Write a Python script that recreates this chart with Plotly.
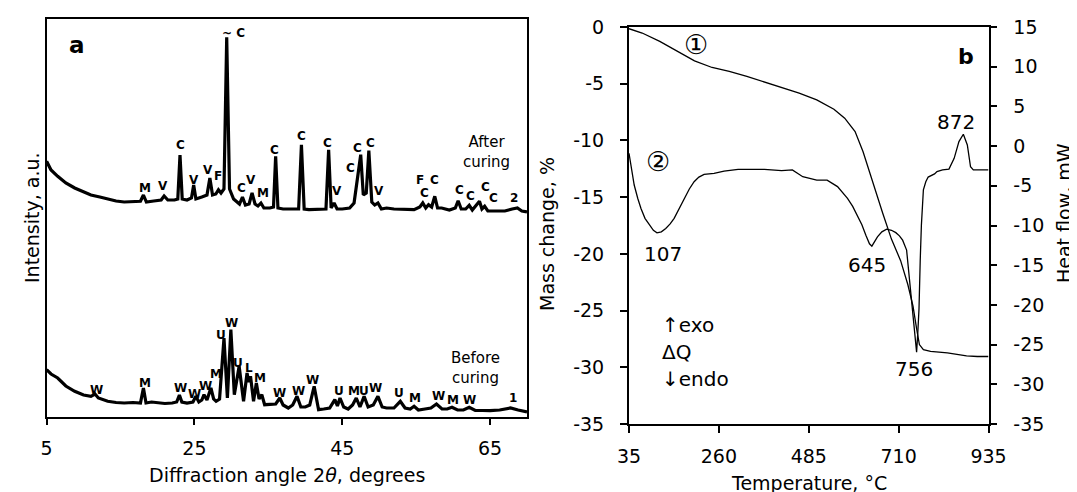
import plotly.graph_objects as go

# ---------------- data: XRD (panel a) ----------------
after_2theta = [5.0, 5.6, 6.5, 7.6, 8.8, 10.0, 11.0, 12.2, 13.3, 14.4, 15.5, 16.7, 17.7, 18.1, 18.5, 19.5, 20.5, 20.9, 21.4,
                22.3, 22.75, 23.05, 23.35, 24.0, 24.6, 24.9, 25.2, 26.0, 26.7, 27.09, 27.45, 27.9, 28.25, 28.6, 29.0,
                29.37, 29.75, 30.3, 31.1, 31.5, 31.9, 32.4, 32.8, 33.2, 33.6, 34.0, 34.4, 35.2, 35.7, 35.99, 36.3,
                37.0, 38.0, 39.1, 39.48, 39.85, 40.5, 41.5, 42.8, 43.16, 43.5, 43.9, 44.3, 45.0, 46.0, 46.6, 47.12,
                47.5, 47.85, 48.25, 48.6, 49.0, 49.4, 49.83, 50.3, 51.0, 52.0, 53.0, 54.0, 54.72, 55.5, 55.9, 56.3,
                56.68, 57.1, 57.52, 57.9, 58.45, 59.5, 60.3, 60.68, 61.1, 61.7, 62.18, 62.6, 63.2, 63.57, 63.9,
                64.27, 64.7, 65.9, 67.0, 68.0, 68.7, 69.3, 70.0]
after_int = [255.7, 247, 240.7, 234, 229, 225, 222, 220, 218, 216, 215, 215.5, 215.7, 222, 215, 216, 217, 221, 217,
             217, 218, 262, 218, 217, 219, 232, 218, 220, 222, 239, 222, 223, 227.3, 224, 228,
             379.7, 228, 218, 213, 220, 212, 213, 224, 213, 211, 214, 209, 209, 210, 260.7, 209,
             208, 208, 208, 272.3, 208, 207.3, 207.5, 208, 267.3, 209, 214, 208, 208, 209, 214, 242.3,
             262.3, 222, 224, 266.3, 215, 212, 214, 208, 209, 208, 207.5, 207.5, 207.3, 210, 214, 209,
             212.3, 210, 220.7, 209, 209, 207, 209, 216.3, 208, 208, 211.7, 207, 212.3, 215.7, 208,
             210.7, 206, 205.7, 206, 208, 209, 206, 205]

before_2theta = [5.0, 5.6, 6.5, 7.6, 8.8, 10.0, 11.0, 11.55, 12.0, 13.27, 14.4, 15.5, 16.7, 17.7, 18.1, 18.45, 19.2,
                 20.0, 21.0, 22.0, 22.6, 22.97, 23.3, 24.0, 24.8, 25.2, 25.6, 26.0, 26.3, 26.7, 27.23, 27.6, 27.93,
                 28.4, 29.0, 29.46, 29.93, 30.4, 31.05, 31.65, 32.12, 32.35, 32.59, 33.0, 33.38, 33.75, 34.12, 34.5,
                 35.3, 36.0, 36.55, 37.0, 37.7, 38.3, 38.88, 39.4, 40.0, 40.6, 41.2, 41.8, 42.5, 43.3, 44.0, 44.35,
                 44.7, 45.2, 45.8, 46.4, 46.9, 47.4, 47.96, 48.5, 49.2, 49.83, 50.4, 51.0, 52.0, 52.86, 53.5, 54.2,
                 54.72, 55.3, 56.2, 57.0, 57.75, 58.5, 59.2, 59.85, 60.6, 61.4, 62.18, 63.0, 64.0, 65.0, 66.3,
                 67.77, 68.8, 70.0]
before_int = [47.3, 43, 39, 31, 25.7, 22, 20.7, 23, 19, 15.7, 14.5, 14, 14.5, 14, 29, 14, 15,
              14, 13.5, 14, 15, 22, 15, 14, 15, 20.7, 15, 17, 22.3, 17, 29, 18, 15.7,
              18, 79, 19, 87.3, 22.3, 50.7, 15.7, 44, 35, 40.7, 15.7, 34, 18, 22.3, 12.3,
              13, 13, 19, 12, 9, 12, 20.7, 10, 10, 12, 30.7, 7.3, 8, 9, 17.3, 11,
              19, 10, 8, 12, 19, 10, 20.7, 10, 12, 20.7, 10, 9, 9, 15.7, 9, 8,
              10.7, 7, 8, 9, 13, 8, 8, 9.7, 7, 7, 9.7, 6.5, 6.5, 6.3, 7,
              9, 7, 5]

after_labels = ["M", "V", "C", "V", "V", "F", "~ C", "C", "V", "M", "C", "C", "C", "V", "C", "C", "C", "V",
                "F", "C", "C", "C", "C", "C", "C", "2"]
after_label_2theta = [18.28, 20.8, 23.17, 24.9, 26.85, 28.25, 30.3, 31.42, 32.68, 34.22, 35.85, 39.48, 43.07,
                      44.24, 46.15, 47.12, 48.8, 49.92, 55.51, 56.12, 57.52, 60.87, 62.41, 64.41, 65.5, 68.23]
after_label_int = [229, 230.7, 272.3, 237.3, 247.3, 240.7, 384, 229, 237.3, 224, 267.3, 280.7, 274,
                   225.7, 249, 269, 274, 225.7, 237.3, 224, 237.3, 227.3, 220.7, 230, 219.5, 219]

before_labels = ["W", "M", "W", "W", "W", "M", "U", "W", "U", "L", "M", "W", "W", "W", "U", "M", "U", "W",
                 "U", "M", "W", "M", "W", "1"]
before_label_2theta = [11.76, 18.37, 23.17, 25.0, 26.55, 27.9, 28.63, 30.02, 30.96, 32.35, 33.89, 36.55,
                       39.02, 40.97, 44.61, 46.57, 47.96, 49.5, 52.72, 54.86, 57.98, 59.99, 62.27, 68.1]
before_label_int = [27.3, 34, 29, 23, 31, 43, 82.3, 94, 54, 49, 39, 24,
                    25.7, 37.3, 25.7, 25.7, 25.7, 29, 24, 19, 20.7, 17.3, 17.3, 19]

xrd_ticks = [5, 25, 45, 65]

# ---------------- data: TG / DTA (panel b) ----------------
tg_temp = [35, 68, 112, 156, 199, 243, 286, 330, 374, 417, 461, 505, 548, 575, 601, 621, 645, 670, 692, 715,
           733, 746, 755, 762, 772, 790, 832, 866, 880, 907, 935]
tg_mass = [-0.15, -0.53, -1.27, -2.15, -2.98, -3.57, -3.92, -4.36, -4.86, -5.33, -5.83, -6.42, -7.25, -8.04,
           -9.22, -11.0, -13.7, -16.4, -18.7, -20.6, -22.7, -24.6, -26.6, -28.0, -28.45, -28.6, -28.73, -28.9,
           -29.0, -29.05, -29.05]

dta_temp = [35, 41, 48, 57, 65, 75, 86, 96, 105, 116, 127, 138, 148, 160, 173, 186, 198, 210, 223, 248, 273,
            308, 374, 417, 444, 470, 505, 531, 557, 582, 595, 607, 618, 628, 637, 643, 650, 657, 668, 680, 692,
            703, 712, 720, 730, 736, 740, 745, 750, 755, 758, 761, 764, 767, 772, 778, 784, 800, 806, 820, 836,
            849, 861, 872, 882, 890, 897, 935]
dta_heat = [-0.9, -3.0, -4.9, -6.6, -7.85, -9.1, -9.95, -10.6, -10.92, -10.8, -10.38, -9.8, -9.1, -7.9, -6.6,
            -5.4, -4.48, -3.9, -3.56, -3.43, -3.14, -2.93, -2.93, -3.1, -3.0, -3.86, -4.28, -4.28, -5.1, -6.59,
            -7.6, -8.7, -9.9, -11.22, -12.3, -12.6, -12.0, -11.43, -10.8, -10.47, -10.6, -10.9, -11.3, -11.85,
            -13.1, -16.3, -18.2, -20.5, -23.5, -25.95, -23.5, -20.5, -14.5, -9.96, -5.5, -4.5, -3.9, -3.5,
            -3.2, -3.0, -2.9, -1.54, 0.57, 1.49, 0.14, -2.6, -3.0, -3.0]

temp_ticks = [35, 260, 485, 710, 935]
mass_ticks = [0, -5, -10, -15, -20, -25, -30, -35]
heat_ticks = [15, 10, 5, 0, -5, -10, -15, -20, -25, -30, -35]

peak_texts = ["107", "645", "756", "872"]
peak_temp = [120, 632, 749, 853]
peak_mass = [-20.0, -20.95, -30.14, -8.34]

# ---------------- figure ----------------
W, H = 1077, 492


def fx(px):
    return px / W


def fy(py):
    return 1 - py / H


FONT = "DejaVu Sans, Liberation Sans, Arial, sans-serif"
BLACK = "black"

fig = go.Figure()
fig.add_trace(go.Scatter(x=after_2theta, y=after_int, mode="lines", line=dict(color=BLACK, width=3.2),
                         xaxis="x", yaxis="y", hoverinfo="skip"))
fig.add_trace(go.Scatter(x=before_2theta, y=before_int, mode="lines", line=dict(color=BLACK, width=3.2),
                         xaxis="x", yaxis="y", hoverinfo="skip"))
fig.add_trace(go.Scatter(x=tg_temp, y=tg_mass, mode="lines", line=dict(color=BLACK, width=1.3),
                         xaxis="x2", yaxis="y2", hoverinfo="skip"))
fig.add_trace(go.Scatter(x=dta_temp, y=dta_heat, mode="lines", line=dict(color=BLACK, width=1.3),
                         xaxis="x2", yaxis="y3", hoverinfo="skip"))

tickfont = dict(family=FONT, size=19, color=BLACK)
common = dict(showgrid=False, zeroline=False, linecolor=BLACK, tickcolor=BLACK, automargin=False)

layout = dict(
    width=W, height=H, margin=dict(l=0, r=0, t=0, b=0), template="none",
    paper_bgcolor="white", plot_bgcolor="rgba(0,0,0,0)", showlegend=False,
    font=dict(family=FONT, size=19, color=BLACK),
    xaxis=dict(domain=[fx(38.6), fx(519.0)], range=[5, 70], anchor="y", tickvals=xrd_ticks,
               ticktext=[str(v) for v in xrd_ticks], ticks="outside", ticklen=6, tickwidth=2,
               showline=True, linewidth=2, mirror=True, tickfont=tickfont, ticklabelstandoff=7, **common),
    yaxis=dict(domain=[fy(409), fy(11)], range=[0, 398], anchor="x", showticklabels=False, ticks="",
               showline=True, linewidth=2, mirror=True, **common),
    xaxis2=dict(domain=[fx(621.0), fx(980.5)], range=[35, 935], anchor="y2", tickvals=temp_ticks,
                ticktext=[str(v) for v in temp_ticks], ticks="outside", ticklen=7, tickwidth=2,
                showline=True, linewidth=2, mirror=True, tickfont=tickfont, ticklabelstandoff=7, **common),
    xaxis3=dict(overlaying="x2", anchor="y2", side="bottom", range=[35, 935], tickvals=temp_ticks,
                ticks="inside", ticklen=7, tickwidth=2, showticklabels=False, showline=False, **common),
    yaxis2=dict(domain=[fy(416), fy(19)], range=[-35, 0], anchor="x2", tickvals=mass_ticks,
                ticktext=[str(v) for v in mass_ticks], ticks="outside", ticklen=7, tickwidth=2,
                showline=True, linewidth=2, tickfont=tickfont, ticklabelstandoff=12, **common),
    yaxis4=dict(overlaying="y2", anchor="x2", side="left", range=[-35, 0], tickvals=mass_ticks,
                ticks="inside", ticklen=7, tickwidth=2, showticklabels=False, showline=False, **common),
    yaxis3=dict(overlaying="y2", anchor="x2", side="right", range=[-35, 15], tickvals=heat_ticks,
                ticktext=[str(v) for v in heat_ticks], ticks="outside", ticklen=6, tickwidth=2,
                showline=True, linewidth=2, tickfont=tickfont, ticklabelstandoff=13, **common),
    yaxis5=dict(overlaying="y2", anchor="x2", side="right", range=[-35, 15], tickvals=heat_ticks,
                ticks="inside", ticklen=6, tickwidth=2, showticklabels=False, showline=False, **common),
)
fig.update_layout(**layout)

ann = []
lblfont = dict(family=FONT, size=12, color=BLACK, weight="bold")
for t, x, y in zip(after_labels, after_label_2theta, after_label_int):
    ann.append(dict(text=t, x=x, y=y, xref="x", yref="y", showarrow=False, font=lblfont,
                    xanchor="center", yanchor="middle"))
for t, x, y in zip(before_labels, before_label_2theta, before_label_int):
    ann.append(dict(text=t, x=x, y=y, xref="x", yref="y", showarrow=False, font=lblfont,
                    xanchor="center", yanchor="middle"))
curfont = dict(family=FONT, size=15, color=BLACK)
ann.append(dict(text="After<br>curing", x=64.5, y=265, xref="x", yref="y", showarrow=False, font=curfont,
                xanchor="center", yanchor="middle"))
ann.append(dict(text="Before<br>curing", x=63.0, y=49, xref="x", yref="y", showarrow=False, font=curfont,
                xanchor="center", yanchor="middle"))
ann.append(dict(text="<b>a</b>", x=9.06, y=372, xref="x", yref="y", showarrow=False,
                font=dict(family=FONT, size=23, color=BLACK), xanchor="center", yanchor="middle"))

numfont = dict(family=FONT, size=20, color=BLACK)
for t, x, y in zip(peak_texts, peak_temp, peak_mass):
    ann.append(dict(text=t, x=x, y=y, xref="x2", yref="y2", showarrow=False, font=numfont,
                    xanchor="center", yanchor="middle"))
circfont = dict(family="DejaVu Sans, Noto Sans CJK JP", size=27, color=BLACK)
ann.append(dict(text="①", x=203.5, y=-1.56, xref="x2", yref="y2", showarrow=False, font=circfont,
                xanchor="center", yanchor="middle"))
ann.append(dict(text="②", x=106.6, y=-11.87, xref="x2", yref="y2", showarrow=False, font=circfont,
                xanchor="center", yanchor="middle"))
ann.append(dict(text="<b>b</b>", x=878, y=-2.59, xref="x2", yref="y2", showarrow=False,
                font=dict(family=FONT, size=22, color=BLACK), xanchor="center", yanchor="middle"))
for t, y in zip(["↑exo", "ΔQ", "↓endo"], [-26.3, -28.66, -31.0]):
    ann.append(dict(text=t, x=113, y=y, xref="x2", yref="y2", showarrow=False, font=numfont,
                    xanchor="left", yanchor="middle"))

titlefont = dict(family=FONT, size=19, color=BLACK)
ann.append(dict(text="Intensity, a.u.", x=fx(24), y=fy(210), xref="paper", yref="paper", showarrow=False,
                textangle=-90, font=titlefont, xanchor="center", yanchor="middle"))
ann.append(dict(text="Diffraction angle 2<i>θ</i>, degrees", x=fx(279), y=fy(467), xref="paper", yref="paper",
                showarrow=False, font=titlefont, xanchor="center", yanchor="middle"))
ann.append(dict(text="Mass change, %", x=fx(539), y=fy(226), xref="paper", yref="paper", showarrow=False,
                textangle=-90, font=titlefont, xanchor="center", yanchor="middle"))
ann.append(dict(text="Heat flow, mW", x=fx(1056), y=fy(205), xref="paper", yref="paper", showarrow=False,
                textangle=-90, font=titlefont, xanchor="center", yanchor="middle"))
ann.append(dict(text="Temperature, °C", x=fx(801), y=fy(475), xref="paper", yref="paper", showarrow=False,
                font=titlefont, xanchor="center", yanchor="middle"))
fig.update_layout(annotations=ann)

fig.write_html("out.html")
